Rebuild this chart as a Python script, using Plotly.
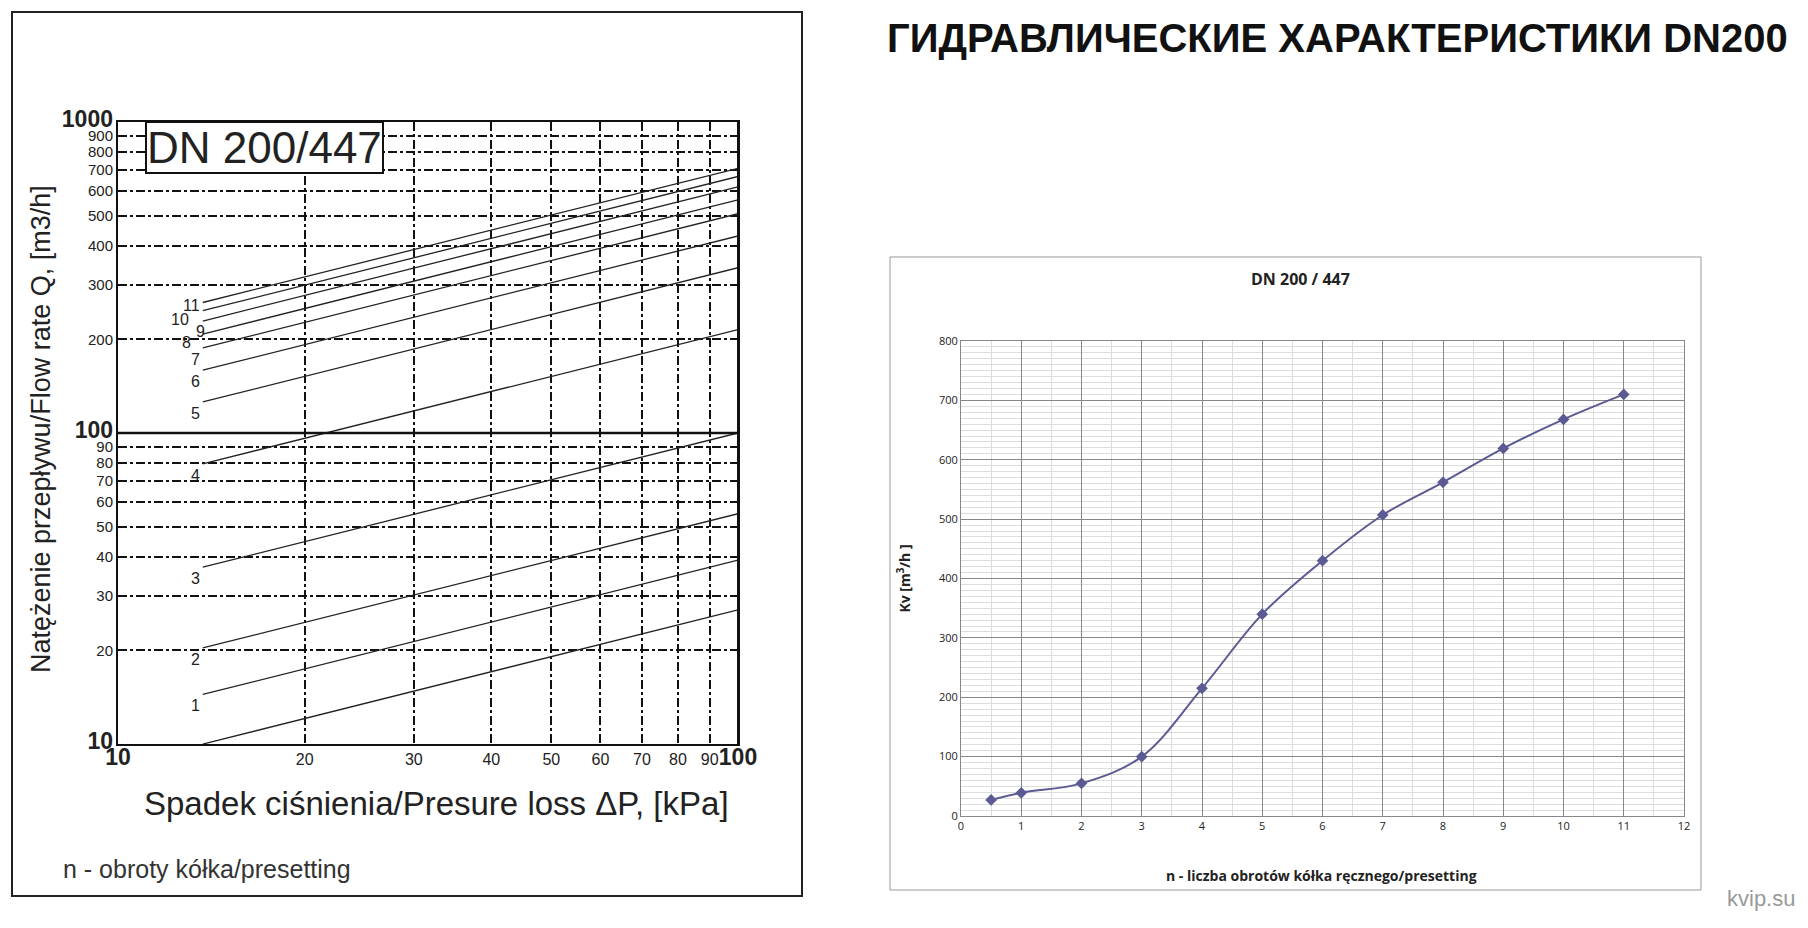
import numpy as np
import plotly.graph_objects as go

# presetting n and Kv [m3/h]
presetting = [0.5, 1, 2, 3, 4, 5, 6, 7, 8, 9, 10, 11]
kv = [27, 39, 55, 100, 215, 340, 430, 507, 562, 619, 668, 710]
line_labels = ['n=0,5', '1', '2', '3', '4', '5', '6', '7', '8', '9', '10', '11']

dp_start, dp_end = 13.7, 100  # kPa
dp_ticks = [10, 20, 30, 40, 50, 60, 70, 80, 90, 100]
q_ticks = [10, 20, 30, 40, 50, 60, 70, 80, 90, 100, 200, 300, 400, 500, 600, 700, 800, 900, 1000]

FONT = 'Liberation Sans'
W, H = 1792, 912  # page body has an 8px margin


def X(px):
    return (px - 8) / W


def Y(py):
    return 1 - (py - 8) / H


fig = go.Figure()

# left: Q = Kv * sqrt(dP / 100 kPa)
for k in kv:
    dp = np.array([dp_start, dp_end])
    q = k * np.sqrt(dp / 100.0)
    fig.add_trace(go.Scatter(x=dp, y=q, mode='lines', line=dict(color='#222', width=1.3),
                             xaxis='x', yaxis='y', showlegend=False, hoverinfo='skip'))

# right: Kv vs presetting
fig.add_trace(go.Scatter(x=presetting, y=kv, mode='lines+markers', line=dict(color='#5c5a92', width=2, shape='spline'),
                         marker=dict(symbol='diamond', size=9, color='#5c5a92'),
                         xaxis='x2', yaxis='y2', showlegend=False))


def bold(v, big):
    return f'<b style="font-size:23px">{v}</b>' if v in big else str(v)


fig.update_layout(
    width=W, height=H, margin=dict(l=0, r=0, t=0, b=0, autoexpand=False),
    paper_bgcolor='white', plot_bgcolor='white', font=dict(family=FONT, color='#222'),
    xaxis=dict(type='log', domain=[X(118), X(738)], range=[1, 2], tickvals=dp_ticks,
               ticktext=[bold(v, (10, 100)) for v in dp_ticks], showgrid=True, gridcolor='#111',
               griddash='dashdot', gridwidth=1.5, linecolor='#111', linewidth=2, mirror=True,
               ticks='', tickangle=0, automargin=False, tickfont=dict(size=16), anchor='y'),
    yaxis=dict(type='log', domain=[Y(744), Y(122)], range=[1, 3], tickvals=q_ticks,
               ticktext=[bold(v, (10, 100, 1000)) for v in q_ticks], showgrid=True, gridcolor='#111',
               griddash='dashdot', gridwidth=1.5, linecolor='#111', linewidth=2, mirror=True,
               ticks='', automargin=False, tickfont=dict(size=15), anchor='x'),
    xaxis2=dict(domain=[X(961), X(1684)], range=[0, 12], dtick=1, showgrid=True, gridcolor='#888',
                minor=dict(dtick=0.5, showgrid=True, gridcolor='#ddd'), linecolor='#888', mirror=True,
                tickfont=dict(size=11, family='Open Sans'), anchor='y2', zeroline=False, automargin=False),
    yaxis2=dict(domain=[Y(816), Y(341)], range=[0, 800], dtick=100, showgrid=True, gridcolor='#888',
                minor=dict(dtick=10, showgrid=True, gridcolor='#ddd'), linecolor='#888', mirror=True,
                tickfont=dict(size=11, family='Open Sans'), anchor='x2', zeroline=False, automargin=False,
                title=dict(text='<b>Kv [m<sup>3</sup>/h ]</b>', font=dict(size=14, family='Open Sans'), standoff=25)),
    shapes=[
        dict(type='rect', xref='paper', yref='paper', x0=X(12), x1=X(802), y0=Y(896), y1=Y(12),
             line=dict(color='#222', width=2)),
        dict(type='rect', xref='paper', yref='paper', x0=X(890), x1=X(1701), y0=Y(890), y1=Y(257),
             line=dict(color='#999', width=1)),
        dict(type='line', xref='paper', yref='paper', x0=X(738), x1=X(738), y0=Y(744), y1=Y(122),
             line=dict(color='#111', width=2)),
        dict(type='line', xref='x', yref='y', x0=10, x1=100, y0=100, y1=100,
             line=dict(color='#111', width=2.5)),
    ],
    annotations=[
        dict(text='<b>ГИДРАВЛИЧЕСКИЕ ХАРАКТЕРИСТИКИ DN200</b>', x=X(1790), y=Y(38), xref='paper', yref='paper',
             xanchor='right', yanchor='middle', showarrow=False, font=dict(size=40, family=FONT, color='#111')),
        dict(text='DN 200/447', x=X(145), y=Y(121), xref='paper', yref='paper', xanchor='left', yanchor='top',
             showarrow=False, font=dict(size=44, family=FONT), bgcolor='white', bordercolor='#111',
             borderwidth=2, borderpad=0),
        dict(text='Natężenie przepływu/Flow rate Q, [m3/h]', x=X(41), y=Y(429), xref='paper', yref='paper',
             xanchor='center', yanchor='middle', textangle=-90, showarrow=False, font=dict(size=27, family=FONT)),
        dict(text='Spadek ciśnienia/Presure loss ΔP, [kPa]', x=X(436), y=Y(803), xref='paper', yref='paper',
             xanchor='center', yanchor='middle', showarrow=False, font=dict(size=33, family=FONT)),
        dict(text='n - obroty kółka/presetting', x=X(61), y=Y(869), xref='paper', yref='paper', xanchor='left',
             yanchor='middle', showarrow=False, font=dict(size=25, family=FONT, color='#333')),
        dict(text='<b>DN 200 / 447</b>', x=X(1300), y=Y(279), xref='paper', yref='paper', xanchor='center',
             yanchor='middle', showarrow=False, font=dict(size=16, family='Open Sans')),
        dict(text='<b>n - liczba obrotów kółka ręcznego/presetting</b>', x=X(1321), y=Y(875), xref='paper',
             yref='paper', xanchor='center', yanchor='middle', showarrow=False,
             font=dict(size=14, family='Open Sans')),
        dict(text='kvip.su', x=X(1797), y=Y(898), xref='paper', yref='paper', xanchor='right', yanchor='middle',
             showarrow=False, font=dict(size=22, family=FONT, color='#999')),
    ],
)

# curve labels at the start of each line on the left chart (top ones staggered as in the original)
label_dx = [-1, -1, -1, -1, -1, -1, -1, -1, -10, 4, -12, -1]
label_dy = [-1, -1, -1, -1, -1, -1, -1, -1, 2, 0, 2, 8]
for k, lab, dx, dy in zip(kv, line_labels, label_dx, label_dy):
    q0 = k * np.sqrt(dp_start / 100.0)
    fig.add_annotation(x=np.log10(dp_start), y=np.log10(q0), xref='x', yref='y', text=lab,
                       showarrow=False, xanchor='right', yanchor='top', xshift=dx, yshift=dy,
                       font=dict(family=FONT, size=16, color='#222'))

fig.write_html('out.html')
